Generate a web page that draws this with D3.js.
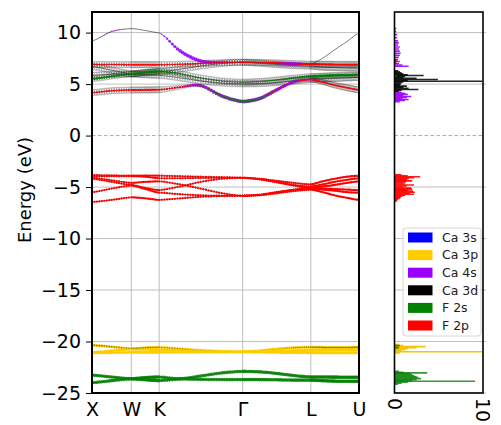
<!DOCTYPE html>
<html><head><meta charset="utf-8">
<script src="https://cdn.jsdelivr.net/npm/d3@7"></script>
<style>body{margin:0;background:#fff;} svg{display:block;font-family:"DejaVu Sans",sans-serif;}</style>
</head><body>
<svg id="c" width="501" height="425"></svg>
<script>
// ---- k-path ----
const kDist = [0, 0.25, 0.5, 0.68, 0.8536, 1.12, 1.38, 1.65, 1.9142, 2.13, 2.35, 2.56, 2.7802, 2.93, 3.08, 3.24, 3.3926];
const kLabels = ["X", "W", "K", "Γ", "L", "U"];
const kLabelIdx = [0, 2, 4, 8, 12, 16];
const yTicks = [10, 5, 0, -5, -10, -15, -20, -25];
const dosTicks = [0, 10];

// ---- band energies (eV) at kDist points ----
const bandC1 = [9.19, 10.1, 10.39, 10.2, 9.97, 8.22, 7.25, 7.12, 7.12, 7.09, 6.99, 6.89, 6.96, 7.51, 8.32, 9.13, 9.94];
const bandC2 = [6.9, 6.9, 6.88, 6.88, 6.88, 6.92, 7.0, 7.08, 7.12, 7.1, 7.05, 6.98, 6.93, 6.92, 6.91, 6.9, 6.9];
const bandC3 = [6.7, 6.35, 6.0, 6.1, 6.2, 6.45, 6.75, 7.0, 7.12, 7.02, 6.9, 6.8, 6.75, 6.65, 6.6, 6.56, 6.54];
const bandC4 = [5.5, 5.75, 5.98, 6.15, 6.25, 6.0, 5.6, 5.3, 5.18, 5.25, 5.4, 5.6, 5.75, 5.8, 5.85, 5.87, 5.89];
const bandC5 = [5.85, 5.95, 5.98, 5.9, 5.85, 5.6, 5.3, 5.1, 5.02, 5.05, 5.15, 5.3, 5.45, 5.5, 5.55, 5.6, 5.65];
const bandC6 = [4.17, 4.35, 4.42, 4.43, 4.45, 4.7, 4.85, 3.85, 3.3, 3.6, 4.45, 5.2, 5.45, 5.2, 4.9, 4.65, 4.44];
const bandV1 = [-3.85, -3.87, -3.9, -3.88, -3.9, -3.95, -4.0, -4.05, -4.1, -4.2, -4.4, -4.6, -4.75, -4.45, -4.2, -4.0, -3.9];
const bandV2 = [-3.95, -3.95, -3.95, -4.0, -4.15, -4.15, -4.12, -4.1, -4.1, -4.25, -4.5, -4.8, -4.95, -4.75, -4.5, -4.3, -4.15];
const bandV3 = [-4.1, -4.35, -4.6, -4.5, -4.45, -4.75, -5.15, -5.6, -5.85, -5.75, -5.5, -5.25, -5.05, -4.95, -4.8, -4.6, -4.45];
const bandV4 = [-4.2, -4.5, -4.8, -5.1, -5.3, -4.95, -4.5, -4.2, -4.1, -4.25, -4.55, -4.85, -5.1, -5.15, -5.2, -5.25, -5.3];
const bandV5 = [-5.5, -5.15, -4.85, -5.2, -5.55, -5.7, -5.8, -5.85, -5.85, -5.75, -5.5, -5.3, -5.15, -5.25, -5.35, -5.5, -5.55];
const bandV6 = [-6.45, -6.25, -6.0, -6.1, -6.25, -6.1, -5.95, -5.88, -5.85, -5.8, -5.6, -5.4, -5.25, -5.5, -5.8, -6.05, -6.25];
const bandY1 = [-20.36, -20.5, -20.68, -20.6, -20.56, -20.7, -20.85, -20.95, -21.0, -20.9, -20.72, -20.6, -20.55, -20.57, -20.58, -20.58, -20.56];
const bandY2 = [-21.05, -20.9, -20.75, -20.75, -20.8, -20.85, -20.9, -20.97, -21.0, -20.98, -20.93, -20.88, -20.85, -20.82, -20.8, -20.8, -20.8];
const bandY3 = [-21.1, -21.08, -21.05, -21.05, -21.05, -21.05, -21.03, -21.01, -21.0, -21.02, -21.05, -21.07, -21.08, -21.1, -21.1, -21.1, -21.1];
const bandG1 = [-23.27, -23.45, -23.62, -23.5, -23.45, -23.6, -23.35, -23.05, -22.9, -22.95, -23.1, -23.3, -23.45, -23.45, -23.46, -23.47, -23.47];
const bandG2 = [-24.0, -23.8, -23.62, -23.72, -23.8, -23.65, -23.68, -23.7, -23.7, -23.7, -23.72, -23.75, -23.75, -23.8, -23.85, -23.86, -23.86];

// ---- orbital weights (0..1) at kDist points ----
const ones = kDist.map(() => 1);
const w_C1_ca4s = [0, 0.12, 0, 0, 0, 0.9, 0.9, 0.5, 0, 0, 0, 0, 0, 0, 0, 0, 0];
const w_C2_ca3d = [0.9, 0.9, 0.9, 0.9, 0.9, 0.9, 0.9, 0.9, 0.9, 0.9, 0.9, 0.9, 0.9, 0.9, 0.9, 0.9, 0.9];
const w_C2_f2p = [0.8, 0.8, 0.8, 0.8, 0.8, 0.8, 0.8, 0.8, 0.8, 0.8, 0.8, 0.8, 0.8, 0.8, 0.8, 0.8, 0.8];
const w_C2_ca4s = [0, 0, 0, 0, 0, 0, 0, 0, 0, 0, 0.4, 0.8, 0.3, 0, 0, 0, 0];
const w_C3_ca3d = [0.9, 0.9, 0.9, 0.9, 0.9, 0.9, 0.9, 0.9, 0.9, 0.9, 0.9, 0.9, 0.9, 0.9, 0.9, 0.9, 0.9];
const w_C4_ca3d = [0.8, 0.8, 0.8, 0.8, 0.8, 0.8, 0.9, 0.9, 0.9, 0.9, 0.9, 0.8, 0.8, 0.8, 0.8, 0.8, 0.8];
const w_C4_f2s = [0.6, 0.6, 0.6, 0.6, 0.6, 0.4, 0.2, 0.1, 0.1, 0.1, 0.2, 0.4, 0.6, 0.6, 0.6, 0.6, 0.6];
const w_C5_ca3d = [0.9, 0.9, 0.9, 0.9, 0.9, 0.9, 0.9, 0.9, 0.9, 0.9, 0.9, 0.9, 0.9, 0.9, 0.9, 0.9, 0.9];
const w_C6_ca3d = [0.9, 0.9, 0.9, 0.9, 0.9, 0.6, 0.3, 0, 0, 0, 0.2, 0.5, 0.6, 0.7, 0.8, 0.9, 0.9];
const w_C6_f2p = [0.9, 0.9, 0.9, 0.9, 0.9, 0.7, 0.4, 0.1, 0, 0.1, 0.3, 0.5, 0.6, 0.6, 0.7, 0.7, 0.7];
const w_C6_ca4s = [0, 0, 0, 0, 0, 0.2, 0.8, 1, 1, 1, 0.9, 0.5, 0.2, 0, 0, 0, 0];
const w_C6_f2s = [0, 0, 0, 0, 0, 0, 0.2, 0.5, 0.6, 0.5, 0.2, 0, 0, 0, 0, 0, 0];
const w_Y1_f2s = [0.6, 0.5, 0.3, 0.4, 0.4, 0.3, 0.1, 0, 0, 0, 0.1, 0.3, 0.5, 0.5, 0.5, 0.5, 0.5];

// ---- DOS (energy, value) ----
const dosF2pE = [7.3, 7.1, -3.8, -3.9, -4.0, -4.1, -4.2, -4.3, -4.4, -4.5, -4.6, -4.7, -4.8, -4.9, -5.0, -5.1, -5.2, -5.3, -5.4, -5.5, -5.6, -5.7, -5.8, -5.9, -6.0, -6.1, -6.2, -6.3, -6.4];
const dosF2pV = [0.3, 0.2, 0.8, 1.5, 2.9, 2.2, 1.6, 1.4, 2.0, 1.3, 1.0, 1.2, 2.2, 1.4, 1.0, 1.9, 2.0, 1.5, 2.1, 2.3, 1.7, 2.2, 1.2, 0.9, 0.7, 0.6, 0.4, 0.3, 0.2];
const dosCa4sE = [10.4, 10.1, 9.8, 9.5, 9.2, 9.0, 8.8, 8.6, 8.4, 8.2, 8.0, 7.8, 7.6, 7.4, 7.2, 7.0, 6.85, 6.73, 4.2, 4.1, 4.0, 3.9, 3.8, 3.7, 3.6, 3.5, 3.4, 3.3];
const dosCa4sV = [0.2, 0.2, 0.3, 0.3, 0.4, 0.5, 0.4, 0.6, 0.5, 0.6, 0.7, 0.6, 0.5, 0.4, 0.6, 0.5, 0.9, 1.6, 0.8, 1.2, 1.5, 1.0, 1.9, 1.4, 0.9, 1.6, 1.2, 0.6];
const dosCa3dE = [6.3, 6.2, 6.1, 6.0, 5.9, 5.83, 5.75, 5.65, 5.55, 5.44, 5.35, 5.27, 5.2, 5.1, 5.0, 4.9, 4.8, 4.7, 4.6, 4.47, 4.4, 4.3];
const dosCa3dV = [0.4, 0.6, 0.8, 1.0, 1.5, 3.3, 1.2, 1.0, 2.5, 4.9, 1.5, 9.9, 1.0, 0.8, 0.7, 0.6, 1.4, 1.0, 1.6, 2.7, 0.8, 0.5];
const dosCa3pE = [-20.3, -20.4, -20.5, -20.6, -20.7, -20.8, -20.9, -21.0, -21.1];
const dosCa3pV = [0.5, 1.0, 3.5, 2.5, 1.5, 1.2, 0.8, 9.85, 0.6];
const dosF2sE = [5.8, -20.4, -20.6, -22.9, -23.0, -23.05, -23.1, -23.2, -23.3, -23.4, -23.5, -23.6, -23.7, -23.8, -23.86, -23.95, -24.05, -24.15];
const dosF2sV = [0.3, 0.6, 0.5, 0.5, 1.0, 3.7, 1.8, 2.0, 2.2, 2.5, 2.7, 3.0, 2.5, 2.0, 9.1, 1.5, 0.8, 0.4];

// ---- legend ----
const legendNames = ["Ca 3s", "Ca 3p", "Ca 4s", "Ca 3d", "F 2s", "F 2p"];
const legendColors = ["#0000ff", "#ffcc00", "#9b00ff", "#000000", "#008000", "#ff0000"];

// ================= drawing =================
const svg = d3.select("#c");
const x = d3.scaleLinear().domain([0, kDist[kDist.length - 1]]).range([92, 359]);
const y = d3.scaleLinear().domain([-25, 12]).range([393, 12]);
const xd = d3.scaleLinear().domain([0, 10]).range([394.5, 483]);

const defs = svg.append("defs");
defs.append("clipPath").attr("id", "cm").append("rect").attr("x", 92).attr("y", 12).attr("width", 267).attr("height", 381);
defs.append("clipPath").attr("id", "cd").append("rect").attr("x", 394.5).attr("y", 12).attr("width", 88.5).attr("height", 381);

// grid
const gm = svg.append("g");
gm.selectAll(".hg").data(yTicks.filter(d => d !== 0)).join("line")
  .attr("x1", 92).attr("x2", 359).attr("y1", d => y(d)).attr("y2", d => y(d))
  .attr("stroke", "#b0b0b0").attr("stroke-width", 0.8);
gm.selectAll(".vg").data(kLabelIdx).join("line")
  .attr("x1", d => x(kDist[d])).attr("x2", d => x(kDist[d])).attr("y1", 12).attr("y2", 393)
  .attr("stroke", "#b0b0b0").attr("stroke-width", 0.8);
svg.selectAll(".hgd").data(yTicks.filter(d => d !== 0)).join("line")
  .attr("x1", 394.5).attr("x2", 486).attr("y1", d => y(d)).attr("y2", d => y(d))
  .attr("stroke", "#b0b0b0").attr("stroke-width", 0.8);
[[92, 359], [394.5, 483]].forEach(r => {
  svg.append("line").attr("x1", r[0]).attr("x2", r[1]).attr("y1", y(0)).attr("y2", y(0))
    .attr("stroke", "#aaaaaa").attr("stroke-width", 1).attr("stroke-dasharray", "3.5,2.5");
});

// band interpolation
const segEnds = kLabelIdx;
function sampleBand(E, ws) {
  const out = [];
  const sub = 8;
  for (let i = 0; i < E.length - 1; i++) {
    const segStart = Math.max(...segEnds.filter(s => s <= i));
    const segEnd = Math.min(...segEnds.filter(s => s >= i + 1));
    const p0 = E[Math.max(i - 1, segStart)], p1 = E[i], p2 = E[i + 1], p3 = E[Math.min(i + 2, segEnd)];
    const last = (i === E.length - 2);
    for (let j = 0; j <= (last ? sub : sub - 1); j++) {
      const t = j / sub;
      const e = 0.5 * (2 * p1 + (-p0 + p2) * t + (2 * p0 - 5 * p1 + 4 * p2 - p3) * t * t + (-p0 + 3 * p1 - 3 * p2 + p3) * t * t * t);
      const k = kDist[i] + t * (kDist[i + 1] - kDist[i]);
      const w = {};
      for (const o in ws) w[o] = ws[o][i] + t * (ws[o][i + 1] - ws[o][i]);
      out.push({ k, e, w });
    }
  }
  return out;
}

const bands = [
  { E: bandC1, w: { ca4s: w_C1_ca4s } },
  { E: bandC2, w: { ca3d: w_C2_ca3d, f2p: w_C2_f2p, ca4s: w_C2_ca4s } },
  { E: bandC3, w: { ca3d: w_C3_ca3d } },
  { E: bandC4, w: { ca3d: w_C4_ca3d, f2s: w_C4_f2s } },
  { E: bandC5, w: { ca3d: w_C5_ca3d } },
  { E: bandC6, w: { ca3d: w_C6_ca3d, f2p: w_C6_f2p, ca4s: w_C6_ca4s, f2s: w_C6_f2s } },
  { E: bandV1, w: { f2p: ones } }, { E: bandV2, w: { f2p: ones } }, { E: bandV3, w: { f2p: ones } },
  { E: bandV4, w: { f2p: ones } }, { E: bandV5, w: { f2p: ones } }, { E: bandV6, w: { f2p: ones } },
  { E: bandY1, w: { ca3p: ones, f2s: w_Y1_f2s } }, { E: bandY2, w: { ca3p: ones } }, { E: bandY3, w: { ca3p: ones } },
  { E: bandG1, w: { f2s: ones } }, { E: bandG2, w: { f2s: ones } }
].map(b => sampleBand(b.E, b.w));

const plot = svg.append("g").attr("clip-path", "url(#cm)");
const line = d3.line().x(d => x(d.k)).y(d => y(d.e));

// Ca 3d hollow circles (behind)
const gd = plot.append("g");
bands.forEach(b => b.forEach(p => {
  if (p.w.ca3d > 0.02) gd.append("circle").attr("cx", x(p.k)).attr("cy", y(p.e)).attr("r", 3.6 * p.w.ca3d)
    .attr("fill", "none").attr("stroke", "#000").attr("stroke-opacity", 0.28).attr("stroke-width", 0.7);
}));
// band lines
plot.selectAll(".bl").data(bands).join("path").attr("d", line)
  .attr("fill", "none").attr("stroke", "#222").attr("stroke-opacity", 0.75).attr("stroke-width", 0.8);
// projections
const style = {
  ca4s: { c: "#9b00ff", r: 2.0, a: 0.85 },
  ca3p: { c: "#ffcc00", r: 1.5, a: 1 },
  f2s: { c: "#008000", r: 1.8, a: 0.85 },
  f2p: { c: "#ff0000", r: 1.15, a: 1 }
};
["ca4s", "ca3p", "f2s", "f2p"].forEach(o => {
  const g = plot.append("g");
  bands.forEach(b => b.forEach(p => {
    const w = p.w[o];
    if (w > 0.03) g.append("circle").attr("cx", x(p.k)).attr("cy", y(p.e)).attr("r", style[o].r * (o === "f2s" && p.w.ca3p ? 0.6 : 1) * Math.sqrt(w))
      .attr("fill", o === "f2s" && p.w.ca3p ? "#667700" : style[o].c).attr("fill-opacity", style[o].a);
  }));
});

// DOS
const dplot = svg.append("g").attr("clip-path", "url(#cd)");
function drawDos(E, V, color, op) {
  dplot.append("g").selectAll("line").data(E.map((e, i) => [e, V[i]])).join("line")
    .attr("x1", xd(0)).attr("x2", d => xd(d[1])).attr("y1", d => y(d[0])).attr("y2", d => y(d[0]))
    .attr("stroke", color).attr("stroke-width", 1.6).attr("stroke-opacity", op);
}
drawDos(dosCa4sE, dosCa4sV, "#9b00ff", 0.9);
drawDos(dosCa3pE, dosCa3pV, "#f5c400", 1);
drawDos(dosF2pE, dosF2pV, "#ff0000", 0.9);
drawDos(dosCa3dE, dosCa3dV, "#000000", 0.85);
drawDos(dosF2sE, dosF2sV, "#008000", 0.8);

// frames
svg.append("rect").attr("x", 92).attr("y", 12).attr("width", 267).attr("height", 381)
  .attr("fill", "none").attr("stroke", "#000").attr("stroke-width", 2);
svg.append("rect").attr("x", 394.5).attr("y", 12).attr("width", 88.5).attr("height", 381)
  .attr("fill", "none").attr("stroke", "#000").attr("stroke-width", 1.6);

// y axis
const ya = svg.append("g").attr("transform", "translate(91,0)")
  .call(d3.axisLeft(y).tickValues(yTicks).tickSize(5).tickPadding(5).tickFormat(d => d < 0 ? "\u2212" + Math.abs(d) : d));
ya.select(".domain").remove();
ya.selectAll("text").attr("font-size", 19).attr("font-family", "DejaVu Sans").attr("fill", "#000");
ya.selectAll("line").attr("stroke", "#000");

// x axis labels
const xa = svg.append("g").attr("transform", "translate(0,393)")
  .call(d3.axisBottom(x).tickValues(kLabelIdx.map(i => kDist[i])).tickSize(0).tickPadding(10)
    .tickFormat((d, i) => kLabels[i]));
xa.select(".domain").remove();
xa.selectAll("text").attr("font-size", 19).attr("font-family", "DejaVu Sans").attr("fill", "#000");

// DOS x tick labels (rotated)
svg.selectAll(".dt").data(dosTicks).join("text")
  .attr("transform", d => `translate(${xd(d)},398) rotate(90)`)
  .attr("text-anchor", "start").attr("dy", "0.35em")
  .attr("font-size", 19).attr("fill", "#000").text(d => d);

// y label
svg.append("text").attr("transform", "translate(31,190) rotate(-90)")
  .attr("text-anchor", "middle").attr("font-size", 18).attr("fill", "#000").text("Energy (eV)");

// legend
const lg = svg.append("g");
lg.append("rect").attr("x", 403).attr("y", 228).attr("width", 78).attr("height", 108).attr("rx", 3)
  .attr("fill", "#fff").attr("fill-opacity", 0.85).attr("stroke", "#cccccc").attr("stroke-width", 0.8);
const li = lg.selectAll(".li").data(legendNames).join("g")
  .attr("transform", (d, i) => `translate(0,${237.5 + i * 17.6})`);
li.append("rect").attr("x", 408).attr("y", -5).attr("width", 24.5).attr("height", 10)
  .attr("fill", (d, i) => legendColors[i]);
li.append("text").attr("x", 442).attr("y", 0).attr("dy", "0.35em").attr("font-size", 12.5).attr("fill", "#222").text(d => d);
</script>
</body></html>
